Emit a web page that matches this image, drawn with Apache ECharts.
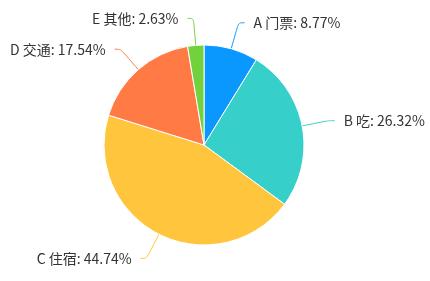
<!DOCTYPE html>
<html>
<head>
<meta charset="utf-8">
<script src="https://cdn.jsdelivr.net/npm/echarts@6/dist/echarts.min.js"></script>
<style>
  html, body { margin: 0; padding: 0; background: #fff; }
  #main { width: 430px; height: 281px; }
</style>
</head>
<body>
<div id="main"></div>
<script>
// 数据
var categories = ["A 门票", "B 吃", "C 住宿", "D 交通", "E 其他"];
var values = [10, 30, 51, 20, 3];
var colors = ["#0a98ff", "#36cfc9", "#ffc53d", "#ff7a45", "#73d13d"];

var chart = echarts.init(document.getElementById("main"));
chart.setOption({
  color: colors,
  animation: false,
  series: [
    {
      type: "pie",
      center: [204, 145],
      radius: 100,
      startAngle: 90,
      clockwise: true,
      data: categories.map(function (name, i) {
        return { name: name, value: values[i] };
      }),
      itemStyle: {
        borderColor: "#fff",
        borderWidth: 1
      },
      label: {
        formatter: "{b}: {d}%",
        color: "#333",
        fontSize: 14,
        fontFamily: "Noto Sans CJK SC",
        distanceToLabelLine: 9,
        overflow: "none"
      },
      labelLine: {
        length: 27,
        length2: 6,
        smooth: true,
        lineStyle: { width: 1 }
      }
    }
  ]
});
</script>
</body>
</html>
